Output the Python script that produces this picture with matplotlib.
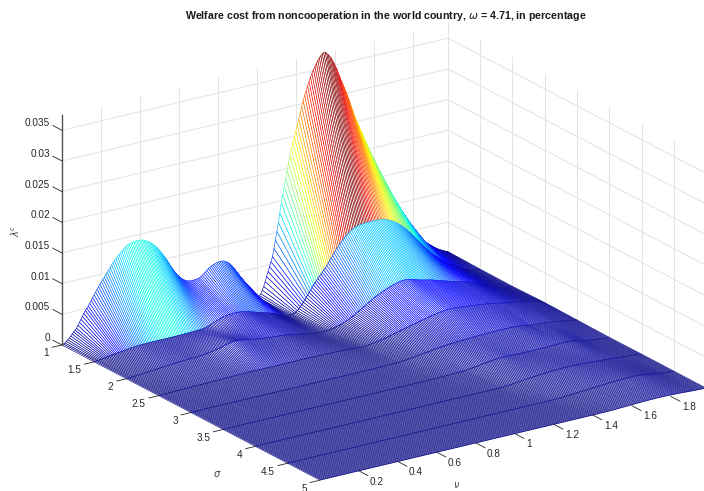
import numpy as np
import matplotlib
matplotlib.use("Agg")
import matplotlib.pyplot as plt
from mpl_toolkits.mplot3d import proj3d
from mpl_toolkits.mplot3d.art3d import Poly3DCollection

plt.rcParams['font.family'] = ['Liberation Sans', 'DejaVu Sans']
plt.rcParams['mathtext.fontset'] = 'dejavusans'

# lambda^c in units of 1e-5, one list per sigma, nu = 0, 0.0075, 0.015 ...
sigma = [1, 1.5, 2, 2.5, 3, 3.5, 4, 4.5, 5]
nu_step = 0.0075

z_s10 = [0, 10, 20, 40, 60, 85, 110, 137, 165, 190, 215, 257, 300, 342, 385, 427, 470, 500, 530, 570,
         610, 650, 690, 730, 770, 805, 840, 875, 910, 942, 975, 1007, 1040, 1075, 1110, 1140, 1170, 1197, 1225, 1250,
         1275, 1297, 1320, 1342, 1365, 1376, 1385, 1393, 1400, 1404, 1407, 1408, 1408, 1407, 1405, 1398, 1390, 1378, 1365, 1350,
         1335, 1315, 1295, 1270, 1245, 1218, 1190, 1155, 1120, 1083, 1045, 1008, 970, 925, 880, 840, 800, 762, 725, 695,
         665, 640, 615, 597, 580, 567, 555, 550, 545, 545, 545, 547, 550, 555, 560, 575, 590, 610, 630, 652,
         675, 690, 705, 715, 725, 733, 740, 744, 747, 746, 745, 735, 725, 708, 690, 663, 635, 603, 570, 530,
         490, 452, 415, 380, 345, 300, 255, 212, 170, 130, 90, 62, 35, 25, 15, 35, 60, 112, 170, 242,
         320, 395, 470, 545, 620, 750, 880, 1020, 1160, 1310, 1460, 1590, 1720, 1845, 1970, 2085, 2200, 2300, 2400, 2490,
         2580, 2670, 2760, 2860, 2960, 3045, 3130, 3200, 3270, 3335, 3400, 3455, 3510, 3555, 3600, 3640, 3680, 3708, 3735, 3745,
         3750, 3728, 3700, 3670, 3640, 3590, 3540, 3485, 3430, 3360, 3290, 3230, 3170, 3105, 3040, 2975, 2910, 2830, 2750, 2675,
         2600, 2540, 2480, 2420, 2360, 2300, 2240, 2180, 2120, 2060, 2000, 1942, 1885, 1832, 1780, 1725, 1670, 1617, 1565, 1512,
         1460, 1407, 1355, 1302, 1250, 1200, 1150, 1100, 1050, 1005, 960, 915, 870, 825, 780, 735, 690, 645, 600, 550,
         500, 470, 440, 412, 385, 357, 330, 305, 280, 257, 235, 215, 195, 175, 155, 137, 120, 105, 90, 77,
         65, 52, 40, 30, 20]
z_s15 = [0, 2, 5, 7, 10, 14, 18, 21, 25, 28, 32, 36, 40, 43, 47, 50, 54, 57, 60, 63,
         66, 69, 72, 75, 78, 81, 84, 87, 90, 91, 93, 94, 95, 96, 97, 97, 98, 98, 99, 99,
         100, 100, 100, 100, 100, 100, 100, 100, 100, 100, 100, 100, 100, 100, 100, 100, 101, 101, 102, 102,
         103, 103, 104, 104, 105, 105, 106, 107, 108, 109, 110, 111, 112, 114, 117, 121, 125, 131, 138, 146,
         155, 165, 175, 185, 195, 203, 212, 220, 228, 233, 238, 241, 245, 246, 248, 249, 250, 250, 250, 247,
         245, 241, 238, 233, 228, 221, 215, 207, 200, 192, 185, 177, 170, 162, 155, 147, 140, 134, 128, 120,
         112, 103, 95, 85, 75, 65, 55, 45, 35, 26, 18, 11, 5, 3, 2, 3, 5, 14, 25, 45,
         70, 97, 125, 157, 190, 225, 260, 295, 330, 365, 400, 430, 460, 490, 520, 547, 575, 605, 635, 667,
         700, 735, 770, 805, 840, 872, 905, 935, 965, 992, 1020, 1045, 1070, 1090, 1110, 1127, 1145, 1160, 1175, 1182,
         1190, 1195, 1200, 1202, 1205, 1206, 1208, 1209, 1210, 1211, 1212, 1212, 1212, 1211, 1210, 1207, 1205, 1200, 1195, 1187,
         1180, 1170, 1160, 1147, 1135, 1120, 1105, 1087, 1070, 1050, 1030, 1007, 985, 960, 935, 907, 880, 850, 820, 790,
         760, 730, 700, 670, 640, 610, 580, 552, 525, 497, 470, 447, 425, 405, 385, 365, 345, 325, 305, 287,
         270, 252, 235, 217, 200, 185, 170, 155, 140, 127, 115, 102, 90, 80, 70, 62, 55, 47, 40, 34,
         28, 23, 18, 14, 10]
z_s20 = [0, 1, 2, 3, 5, 6, 8, 10, 12, 14, 16, 18, 20, 22, 24, 26, 28, 30, 32, 34,
         36, 38, 40, 42, 44, 46, 48, 50, 52, 54, 56, 58, 60, 61, 63, 64, 66, 67, 69, 70,
         72, 73, 74, 75, 76, 77, 78, 79, 80, 82, 84, 86, 88, 91, 94, 97, 100, 104, 108, 113,
         118, 123, 128, 134, 140, 146, 152, 158, 165, 171, 178, 183, 188, 190, 192, 191, 190, 187, 185, 181,
         178, 174, 170, 165, 160, 156, 152, 148, 145, 141, 138, 135, 132, 128, 125, 122, 120, 117, 115, 113,
         112, 110, 108, 106, 104, 102, 100, 97, 95, 91, 88, 84, 80, 76, 72, 67, 63, 58, 54, 49,
         45, 40, 36, 32, 28, 24, 20, 16, 12, 9, 6, 4, 2, 1, 0, 1, 2, 3, 5, 8,
         12, 16, 20, 26, 32, 38, 45, 52, 60, 70, 80, 90, 100, 112, 125, 140, 155, 170, 185, 200,
         215, 230, 245, 260, 275, 290, 305, 320, 335, 350, 365, 377, 390, 402, 415, 425, 435, 445, 455, 465,
         475, 482, 490, 497, 505, 511, 518, 522, 527, 528, 530, 529, 528, 524, 520, 512, 505, 497, 490, 482,
         475, 468, 462, 456, 450, 445, 440, 435, 430, 422, 415, 407, 400, 392, 385, 377, 370, 362, 355, 347,
         340, 332, 325, 317, 310, 304, 298, 291, 285, 280, 275, 267, 260, 252, 245, 236, 228, 219, 210, 200,
         190, 180, 170, 160, 150, 140, 130, 121, 112, 103, 95, 86, 78, 70, 62, 55, 48, 41, 35, 28,
         22, 17, 12, 8, 5]
z_s25 = [0, 0, 1, 1, 2, 2, 3, 3, 4, 4, 5, 5, 6, 6, 7, 7, 8, 8, 9, 9,
         10, 10, 11, 11, 12, 12, 13, 13, 14, 14, 15, 15, 16, 16, 17, 17, 18, 18, 19, 19,
         20, 20, 21, 21, 22, 22, 23, 23, 24, 24, 25, 25, 26, 26, 27, 27, 28, 28, 29, 29,
         30, 30, 30, 30, 30, 30, 30, 30, 30, 30, 30, 30, 30, 30, 30, 30, 30, 30, 30, 30,
         30, 30, 30, 30, 30, 30, 30, 30, 30, 30, 30, 30, 30, 30, 30, 30, 30, 30, 30, 30,
         30, 30, 30, 29, 29, 29, 29, 28, 28, 28, 28, 27, 27, 27, 27, 26, 26, 25, 25, 24,
         24, 23, 23, 22, 21, 20, 19, 18, 17, 15, 14, 12, 11, 9, 8, 6, 5, 4, 3, 3,
         3, 4, 6, 8, 11, 14, 17, 20, 24, 28, 32, 36, 40, 45, 50, 55, 60, 66, 72, 78,
         85, 91, 97, 103, 110, 116, 122, 128, 134, 140, 146, 152, 158, 164, 170, 175, 181, 186, 192, 197,
         203, 208, 214, 219, 225, 230, 236, 241, 246, 251, 256, 260, 264, 267, 271, 273, 276, 277, 279, 279,
         280, 279, 278, 276, 274, 272, 270, 267, 265, 262, 260, 257, 255, 252, 250, 247, 244, 241, 238, 235,
         232, 229, 226, 223, 220, 216, 212, 208, 204, 200, 196, 191, 187, 182, 178, 173, 169, 164, 159, 154,
         149, 143, 138, 133, 128, 122, 117, 111, 106, 100, 95, 89, 84, 78, 73, 67, 62, 56, 51, 45,
         40, 34, 28, 22, 16]
z_s30 = [0] * 8 + [1] * 20 + [2] * 100 + [
         3, 3, 3, 3, 3, 3, 4, 4, 5, 5, 6, 7,
         8, 9, 10, 12, 14, 16, 18, 20, 23, 25, 28, 31, 34, 37, 40, 43, 46, 49, 52, 56,
         60, 63, 66, 69, 73, 76, 80, 83, 86, 89, 92, 94, 97, 99, 102, 104, 107, 109, 111, 112,
         114, 115, 117, 118, 120, 121, 122, 123, 125, 126, 127, 128, 129, 130, 131, 132, 133, 134, 135, 135,
         136, 137, 138, 138, 139, 139, 140, 140, 141, 141, 142, 142, 142, 142, 142, 142, 142, 141, 141, 140,
         140, 138, 137, 135, 133, 130, 128, 125, 122, 118, 115, 110, 105, 103, 102, 100, 98, 96, 94, 92,
         90, 87, 85, 82, 80, 77, 75, 72, 70, 66, 62, 58, 54, 50, 46, 42, 38, 34, 31, 27,
         24, 20, 16, 12, 8]
z_s35 = [0] * 140 + [
         1, 1, 1, 1, 2, 2, 3, 3, 4, 4, 5, 5, 6, 7, 8, 9, 10, 11, 12, 13,
         14, 15, 16, 17, 18, 19, 20, 23, 26, 29, 32, 35, 38, 41, 45, 48, 52, 56, 60, 63,
         66, 69, 72, 74, 77, 79, 82, 84, 86, 88, 90, 90, 91, 90, 90, 89, 88, 87, 86, 85,
         85, 84, 84, 83, 83, 82, 82, 81, 81, 80, 80, 80, 80, 80, 81, 81, 82, 82, 83, 83,
         84, 84, 85, 85, 86, 86, 87, 87, 88, 88, 89, 89, 90, 89, 89, 88, 87, 85, 84, 81,
         78, 74, 70, 65, 60, 55, 50, 45, 40, 36, 33, 30, 27, 24, 21, 18, 16, 13, 11, 9,
         7, 5, 3, 2, 1]
z_s40 = [0] * 164 + [
         1, 1, 1, 1, 2, 3, 5, 7, 9, 11, 13, 15, 18, 20, 23, 25,
         28, 30, 33, 35, 38, 40, 43, 45, 47, 49, 51, 53, 55, 57, 59, 60, 62, 64, 66, 67,
         69, 70, 72, 73, 74, 75, 76, 77, 78, 79, 80, 80, 80, 80, 80, 79, 79, 78, 78, 77,
         76, 75, 74, 73, 72, 71, 70, 69, 68, 66, 65, 63, 62, 61, 60, 58, 57, 55, 54, 52,
         50, 48, 46, 44, 42, 40, 38, 36, 34, 32, 30, 28, 26, 24, 22, 20, 18, 16, 15, 13,
         11, 9, 7, 5, 3]
z_s45 = [0] * 180 + [
         1, 1, 2, 3, 4, 5, 6, 7, 9, 10, 12, 13, 15, 16, 18, 19, 21, 22, 24, 25,
         27, 28, 30, 31, 33, 34, 36, 38, 40, 41, 43, 44, 46, 47, 49, 50, 52, 53, 55, 56,
         58, 59, 60, 61, 62, 63, 64, 65, 66, 67, 68, 69, 70, 70, 70, 69, 69, 68, 67, 65,
         64, 62, 60, 57, 54, 51, 48, 44, 41, 37, 34, 30, 27, 23, 20, 17, 14, 12, 10, 8,
         7, 5, 4, 3, 2]
z_s50 = [0] * 190 + [
         1, 1, 1, 1, 1, 1, 2, 2, 2, 2,
         3, 4, 5, 6, 7, 8, 9, 10, 11, 12, 13, 14, 15, 16, 17, 18, 19, 20, 21, 22,
         23, 23, 24, 24, 25, 25, 26, 26, 27, 27, 28, 28, 28, 28, 28, 27, 27, 26, 26, 25,
         25, 24, 23, 22, 21, 20, 19, 17, 16, 15, 14, 12, 11, 10, 9, 7, 6, 5, 4, 3,
         3, 2, 2, 1, 1]

z_ticks = [0, 0.005, 0.01, 0.015, 0.02, 0.025, 0.03, 0.035]
z_labels = ['0', '0.005', '0.01', '0.015', '0.02', '0.025', '0.03', '0.035']
sigma_ticks = [1, 1.5, 2, 2.5, 3, 3.5, 4, 4.5, 5]
sigma_labels = ['1', '1.5', '2', '2.5', '3', '3.5', '4', '4.5', '5']
nu_ticks = [0.2, 0.4, 0.6, 0.8, 1, 1.2, 1.4, 1.6, 1.8]
nu_labels = ['0.2', '0.4', '0.6', '0.8', '1', '1.2', '1.4', '1.6', '1.8']

Z = np.array([z_s10, z_s15, z_s20, z_s25, z_s30, z_s35, z_s40, z_s45, z_s50]) * 1e-5
nu = np.arange(Z.shape[1]) * nu_step
nu_top = nu[-1]
zmax = Z.max()

fig = plt.figure(figsize=(7.04, 4.91), dpi=100)
ax = fig.add_axes([-0.00895, -0.3071, 1.0795, 1.5479], projection='3d',
                  proj_type='ortho', computed_zorder=False)
ax.set_box_aspect((461.4, 465.7, 245.9), zoom=0.8944)
ax.view_init(elev=20.7, azim=-34)
ax.set_xlim(1, 5)
ax.set_ylim(0, nu_top)
ax.set_zlim(0, zmax)
ax.set_xticks([])
ax.set_yticks([])
ax.set_zticks([])
ax.set_axis_off()

grid_c = '#e4e4e4'
dark = '#262626'


def tick_text(x, y, z, lab, ha):
    # project by hand so the label sits as plain 2D text
    px, py, _ = proj3d.proj_transform(x, y, z, ax.get_proj())
    ax.text2D(px, py, lab, transform=ax.transData, ha=ha, va='center',
              fontsize=7.2, color=dark, zorder=21)


# back walls
for z in z_ticks:
    ax.plot([1, 1], [0, nu_top], [z, z], color=grid_c, lw=0.75, zorder=1)
    ax.plot([1, 5], [nu_top, nu_top], [z, z], color=grid_c, lw=0.75, zorder=1)
for n in nu_ticks:
    ax.plot([1, 1], [n, n], [0, zmax], color=grid_c, lw=0.75, zorder=1)
for s in sigma_ticks[:-1]:
    ax.plot([s, s], [nu_top, nu_top], [0, zmax], color=grid_c, lw=0.75, zorder=1)

# mesh, strip by strip from the back, white faces hide what is behind
cmap = plt.get_cmap('jet')
for i in range(len(sigma) - 1):
    quads = []
    edges = []
    for j in range(len(nu) - 1):
        quads.append([(sigma[i], nu[j], Z[i, j]),
                      (sigma[i], nu[j + 1], Z[i, j + 1]),
                      (sigma[i + 1], nu[j + 1], Z[i + 1, j + 1]),
                      (sigma[i + 1], nu[j], Z[i + 1, j])])
        edges.append(cmap(Z[i, j] / zmax))
    poly = Poly3DCollection(quads, facecolors='white', edgecolors=edges,
                            linewidths=0.42, zorder=2 + i)
    ax.add_collection3d(poly, autolim=False)

# axes and ticks
ax.plot([1, 1], [0, 0], [0, zmax], color='#555555', lw=1.0, zorder=20)
for z, lab in zip(z_ticks, z_labels):
    ax.plot([1, 0.86], [0, 0], [z, z], color=dark, lw=0.6, zorder=20)
    tick_text(0.814, 0, z + 0.0001, lab, 'right')
for s, lab in zip(sigma_ticks, sigma_labels):
    ax.plot([s, s], [0, -0.05], [0, 0], color=dark, lw=0.6, zorder=20)
    tick_text(s, -0.0667, -0.00086, lab, 'right')
for n, lab in zip(nu_ticks, nu_labels):
    ax.plot([5, 5.14], [n, n], [0, 0], color=dark, lw=0.6, zorder=20)
    tick_text(5.17, n, -0.0008, lab, 'left')

fig.text(385.5 / 704, 1 - 16 / 491,
         r'Welfare cost from noncooperation in the world country, $\omega$ = 4.71, in percentage',
         ha='center', va='center', fontsize=7.7, fontweight='bold', color='#1a1a1a')
fig.text(16 / 704, 1 - 231 / 491, r'$\lambda^c$', rotation=90, ha='center', va='center',
         fontsize=7, color='#404040')
fig.text(217 / 704, 1 - 474 / 491, r'$\sigma$', ha='center', va='center', fontsize=7, color='#404040')
fig.text(457 / 704, 1 - 485 / 491, r'$\nu$', ha='center', va='center', fontsize=7, color='#404040')

fig.savefig('out.png', dpi=100)
